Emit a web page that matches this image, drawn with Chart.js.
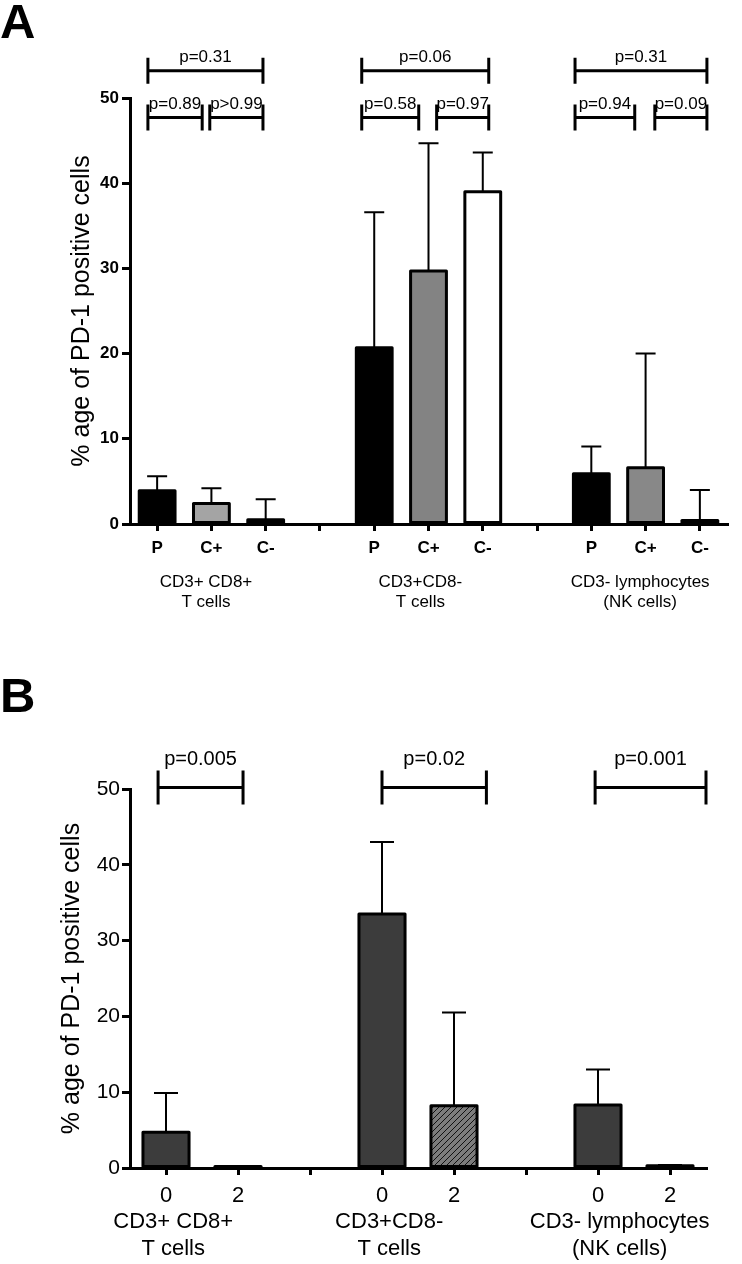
<!DOCTYPE html>
<html>
<head>
<meta charset="utf-8">
<script src="https://cdn.jsdelivr.net/npm/chart.js@4.4.1/dist/chart.umd.min.js"></script>
<style>
  body { margin: 0; background: #fff; }
  canvas { position: absolute; left: 0; }
  #panelA { top: 0; }
  #panelB { top: 640px; }
</style>
</head>
<body>
<canvas id="panelA" width="742" height="625"></canvas>
<canvas id="panelB" width="742" height="624"></canvas>
<script>
// ---- panel A data ----
var catsA = ['P', 'C+', 'C-', '', 'P', 'C+', 'C-', '', 'P', 'C+', 'C-'];
var meanA = [3.9, 2.4, 0.5, null, 20.7, 29.7, 39.0, null, 5.9, 6.6, 0.4];
var errA  = [1.7, 1.8, 2.4, null, 15.9, 15.0, 4.6, null, 3.2, 13.4, 3.6];
var groupsA = [['CD3+ CD8+', 'T cells'], ['CD3+CD8-', 'T cells'], ['CD3- lymphocytes', '(NK cells)']];
var pvalsA = ['p=0.31', 'p=0.89', 'p>0.99', 'p=0.06', 'p=0.58', 'p=0.97', 'p=0.31', 'p=0.94', 'p=0.09'];

// ---- panel B data ----
var catsB = ['0', '2', '', '0', '2', '', '0', '2'];
var meanB = [4.7, 0.2, null, 33.5, 8.2, null, 8.3, 0.3];
var errB  = [5.2, 0, null, 9.5, 12.3, null, 4.7, 0.1];
var groupsB = [['CD3+ CD8+', 'T cells'], ['CD3+CD8-', 'T cells'], ['CD3- lymphocytes', '(NK cells)']];
var pvalsB = ['p=0.005', 'p=0.02', 'p=0.001'];

var yTicks = [0, 10, 20, 30, 40, 50];
var FONT = "'Liberation Sans', Arial, sans-serif";

function hatchPattern() {
  var c = document.createElement('canvas');
  c.width = 6; c.height = 6;
  var g = c.getContext('2d');
  g.fillStyle = '#7c7c7c';
  g.fillRect(0, 0, 6, 6);
  g.strokeStyle = '#111';
  g.lineWidth = 1;
  g.beginPath();
  g.moveTo(0, 6); g.lineTo(6, 0);
  g.moveTo(-3, 3); g.lineTo(3, -3);
  g.moveTo(3, 9); g.lineTo(9, 3);
  g.stroke();
  return g.createPattern(c, 'repeat');
}

// draws error bars, bar outlines, brackets, group labels, titles
function extras(cfg) {
  return {
    id: 'extras',
    afterDatasetsDraw: function(chart) {
      var ctx = chart.ctx, xs = chart.scales.x, ys = chart.scales.y;
      ctx.save();
      ctx.strokeStyle = '#000';
      ctx.lineWidth = 2;
      cfg.mean.forEach(function(m, i) {
        if (m === null || !cfg.err[i]) return;
        var x = xs.getPixelForValue(i);
        var y0 = ys.getPixelForValue(m);
        var y1 = ys.getPixelForValue(m + cfg.err[i]);
        ctx.beginPath();
        ctx.moveTo(x, y0); ctx.lineTo(x, y1);
        ctx.moveTo(x - cfg.cap, y1); ctx.lineTo(x + cfg.cap, y1);
        ctx.stroke();
      });
      // outlines centred on the bar edge (like prism)
      ctx.lineWidth = 3;
      ctx.lineJoin = 'round';
      chart.getDatasetMeta(0).data.forEach(function(bar, i) {
        if (cfg.mean[i] === null) return;
        var p = bar.getProps(['x', 'y', 'base', 'width'], true);
        ctx.strokeRect(p.x - p.width / 2, p.y, p.width, p.base - p.y);
      });
      ctx.restore();
    },
    afterDraw: function(chart) {
      var ctx = chart.ctx, xs = chart.scales.x, ys = chart.scales.y, a = chart.chartArea;
      ctx.save();
      ctx.fillStyle = '#000';
      ctx.strokeStyle = '#000';
      // brackets
      ctx.lineWidth = 3;
      ctx.textAlign = 'center';
      ctx.textBaseline = 'alphabetic';
      ctx.font = cfg.pFont + 'px ' + FONT;
      cfg.brackets.forEach(function(b, k) {
        var x0 = xs.getPixelForValue(b[0]), x1 = xs.getPixelForValue(b[1]);
        var y = ys.getPixelForValue(b[2]);
        var h = cfg.bracketH;
        ctx.beginPath();
        ctx.moveTo(x0, y - h); ctx.lineTo(x0, y + h);
        ctx.moveTo(x1, y - h); ctx.lineTo(x1, y + h);
        ctx.moveTo(x0, y); ctx.lineTo(x1, y);
        ctx.stroke();
        ctx.fillText(cfg.pvals[k], (x0 + x1) / 2, y - cfg.pGap);
      });
      // group labels under the axis
      ctx.font = cfg.gFont + 'px ' + FONT;
      ctx.textBaseline = 'middle';
      cfg.groups.forEach(function(g, k) {
        var x = xs.getPixelForValue(cfg.groupAt[k]);
        ctx.fillText(g[0], x, a.bottom + cfg.gY[0]);
        ctx.fillText(g[1], x, a.bottom + cfg.gY[1]);
      });
      // y title
      ctx.save();
      ctx.translate(cfg.titleX, (a.top + a.bottom) / 2);
      ctx.rotate(-Math.PI / 2);
      ctx.font = cfg.tFont + 'px ' + FONT;
      ctx.fillText('% age of PD-1 positive cells', 0, 0);
      ctx.restore();
      // panel letter
      ctx.textAlign = 'left';
      ctx.textBaseline = 'alphabetic';
      ctx.font = 'bold 49px ' + FONT;
      ctx.fillText(cfg.letter, 0, cfg.letterY);
      ctx.restore();
    }
  };
}

function makeChart(id, cats, mean, fills, cfg) {
  return new Chart(document.getElementById(id), {
    type: 'bar',
    data: {
      labels: cats,
      datasets: [{
        data: mean,
        backgroundColor: fills,
        borderWidth: 0,
        barPercentage: cfg.barPct,
        categoryPercentage: 1
      }]
    },
    options: {
      responsive: false,
      animation: false,
      layout: { padding: { top: cfg.top, right: cfg.right, left: 0, bottom: 0 } },
      plugins: { legend: { display: false }, tooltip: { enabled: false } },
      scales: {
        x: {
          grid: { drawOnChartArea: false, offset: false, color: '#000', lineWidth: 3, tickLength: 7 },
          border: { width: 3, color: '#000' },
          ticks: {
            color: '#000', autoSkip: false, maxRotation: 0, padding: cfg.xPad,
            font: { family: FONT, size: cfg.xFont, weight: cfg.weight }
          },
          afterFit: function(s) { s.height = cfg.xH; }
        },
        y: {
          min: 0, max: 50,
          afterBuildTicks: function(s) { s.ticks = yTicks.map(function(v) { return { value: v }; }); },
          grid: { drawOnChartArea: false, color: '#000', lineWidth: 3, tickLength: 8 },
          border: { width: 3, color: '#000' },
          ticks: {
            color: '#000', padding: cfg.yPad,
            font: { family: FONT, size: cfg.yFont, weight: cfg.weight }
          },
          afterFit: function(s) { s.width = 130; }
        }
      }
    },
    plugins: [extras(cfg)]
  });
}

makeChart('panelA', catsA, meanA,
  ['#000', '#a4a4a4', '#fff', null, '#000', '#838383', '#fff', null, '#000', '#888', '#fff'],
  {
    mean: meanA, err: errA, cap: 10, barPct: 0.66,
    top: 98, right: 15, xH: 101, xPad: 7, xFont: 17, yFont: 17, yPad: 3, weight: 'bold',
    pvals: pvalsA, pFont: 17, pGap: 9, bracketH: 13,
    brackets: [
      [-0.17, 1.95, 53.2], [-0.17, 0.83, 47.7], [0.97, 1.95, 47.7],
      [3.77, 6.11, 53.2], [3.77, 4.82, 47.7], [5.15, 6.11, 47.7],
      [7.70, 10.13, 53.2], [7.70, 8.80, 47.7], [9.17, 10.13, 47.7]
    ],
    groups: groupsA, groupAt: [0.9, 4.85, 8.9], gFont: 17, gY: [58, 78],
    titleX: 82, tFont: 25, letter: 'A', letterY: 38
  });

makeChart('panelB', catsB, meanB,
  ['#3c3c3c', '#3c3c3c', null, '#3c3c3c', hatchPattern(), null, '#3c3c3c', '#3c3c3c'],
  {
    mean: meanB, err: errB, cap: 12, barPct: 0.64,
    top: 149, right: 36, xH: 96, xPad: 8, xFont: 22, yFont: 21, yPad: 2, weight: 'normal',
    pvals: pvalsB, pFont: 20, pGap: 22, bracketH: 17,
    brackets: [[-0.11, 1.07, 50.2], [3.0, 4.45, 50.2], [5.96, 7.5, 50.2]],
    groups: groupsB, groupAt: [0.1, 3.1, 6.3], gFont: 22, gY: [54, 81],
    titleX: 72, tFont: 25, letter: 'B', letterY: 72
  });
</script>
</body>
</html>
